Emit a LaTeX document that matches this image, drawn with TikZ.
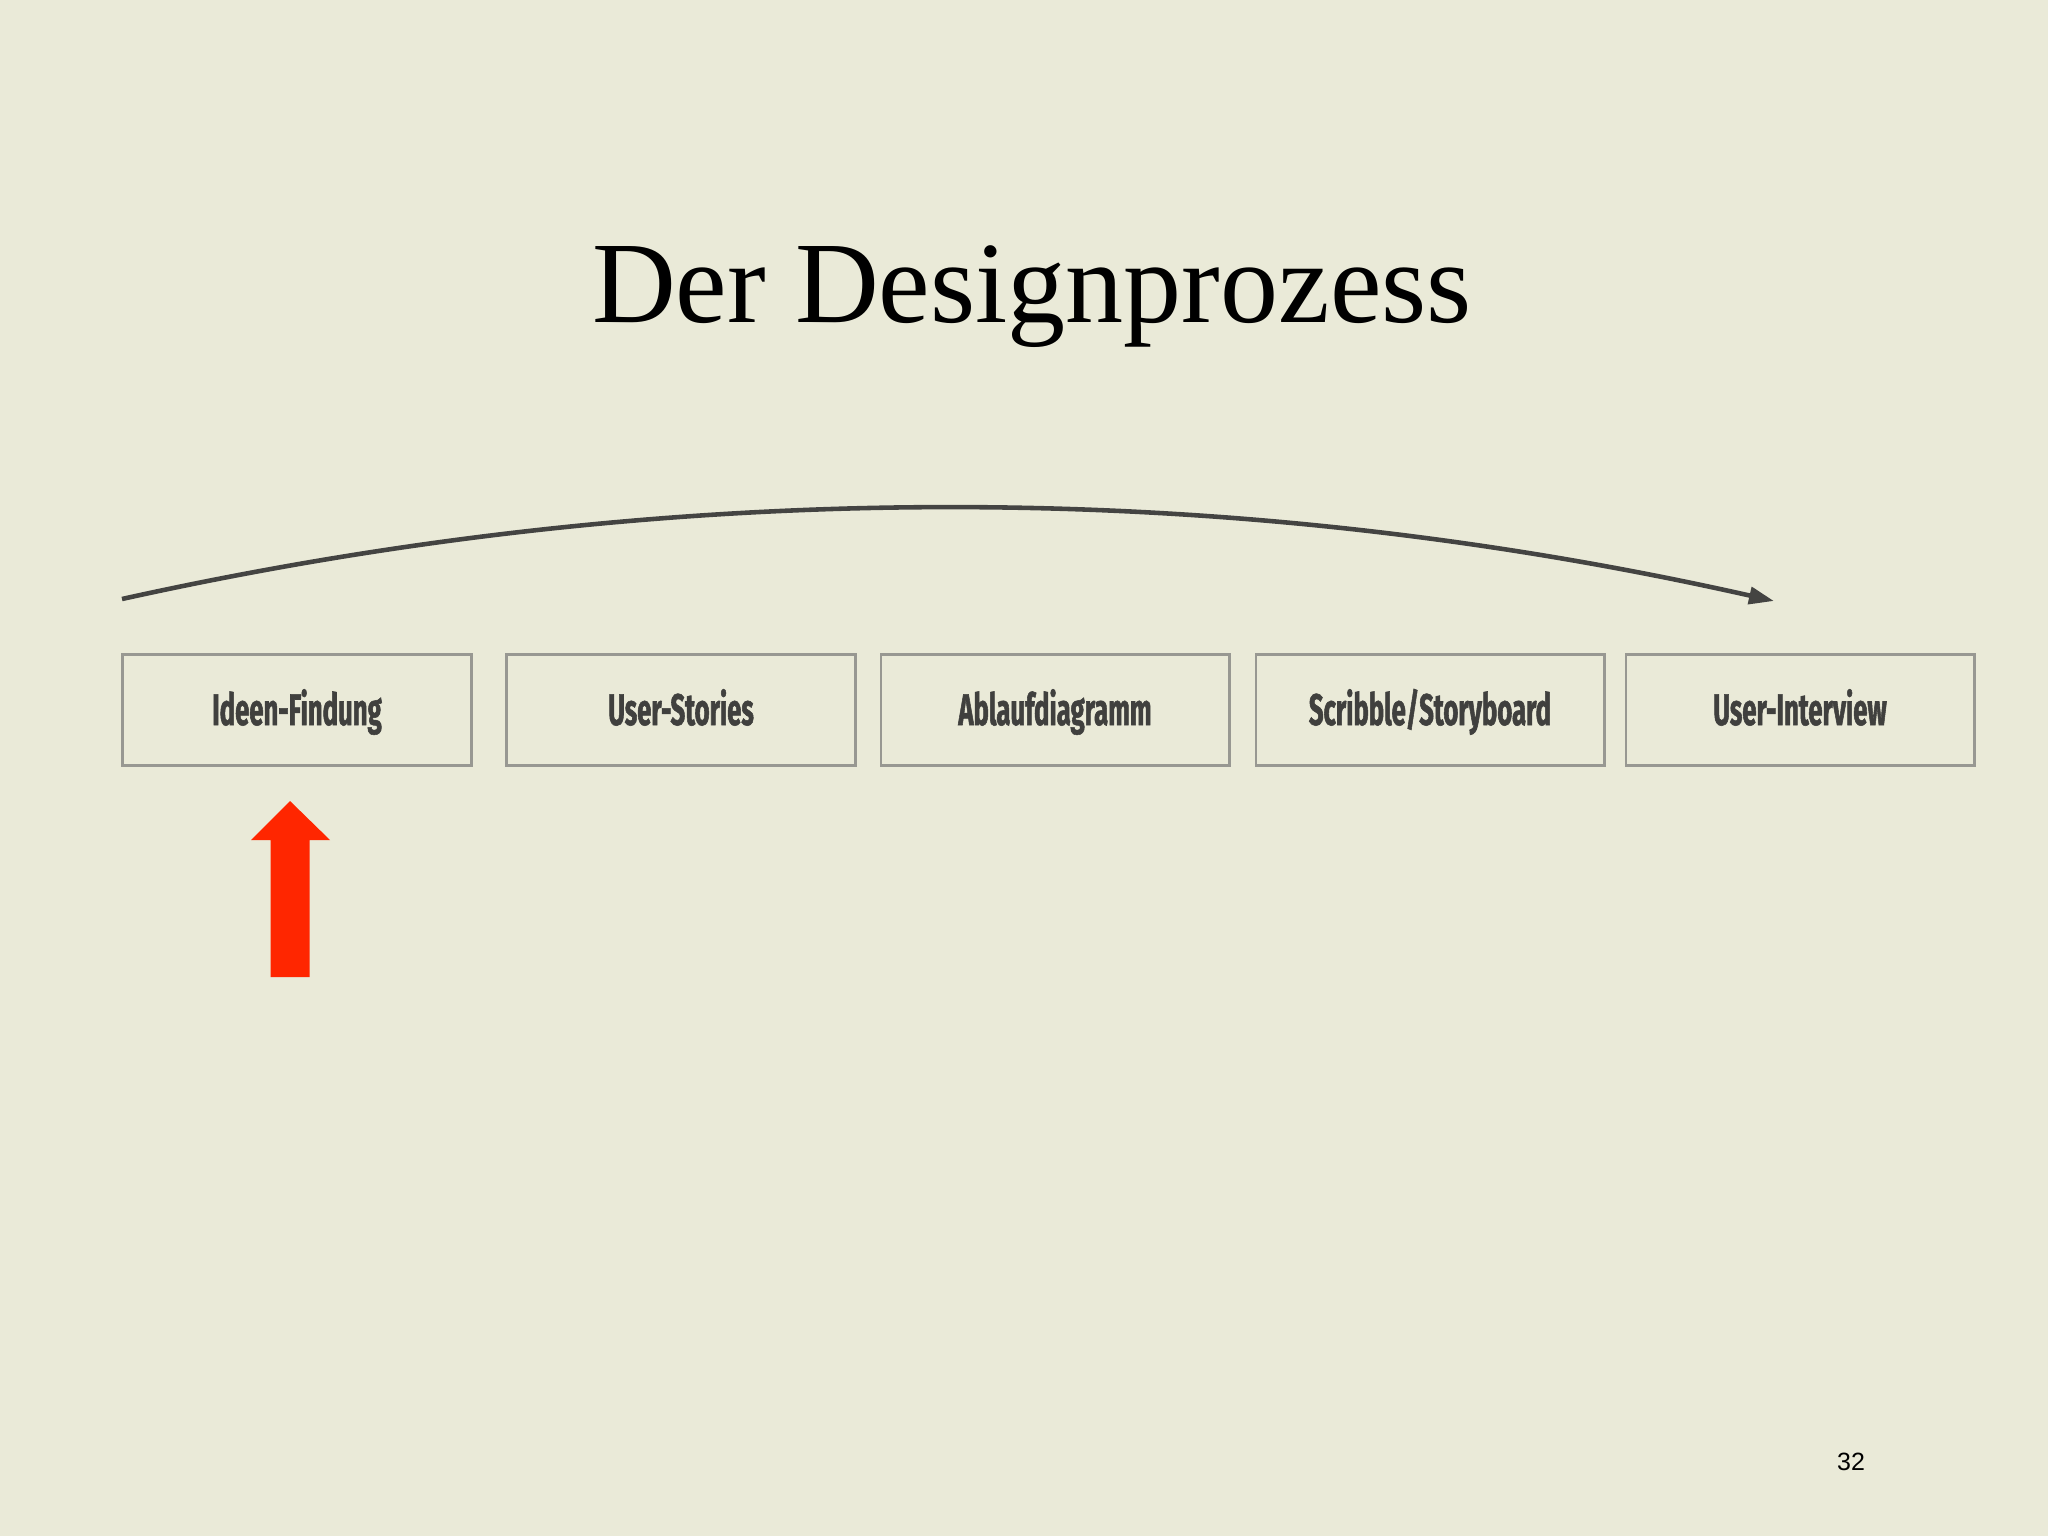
\documentclass[tikz,border=0pt]{standalone}
\usepackage{fontspec}
\setmainfont{Liberation Serif}
\newfontfamily\labelfont{Fira Sans}[FakeStretch=0.58,FakeBold=1.2]
\newfontfamily\numfont{Liberation Sans}
\usetikzlibrary{arrows.meta}
\definecolor{bgcol}{RGB}{234,234,216}
\definecolor{boxline}{RGB}{152,152,146}
\definecolor{txtcol}{RGB}{64,64,62}
\definecolor{arccol}{RGB}{68,68,66}
\definecolor{redarrow}{RGB}{255,38,0}
\tikzset{
  stagebox/.style={draw=boxline, line width=0.6pt, minimum width=3.487cm, minimum height=1.11cm,
    inner sep=0pt, text height=0.30cm, text depth=0pt, text=txtcol,
    font=\labelfont\bfseries\fontsize{12.6}{14}\selectfont},
  flow/.style={draw=arccol, line width=1.3pt, -{Triangle[length=0.25cm,width=0.17cm]}},
}
\begin{document}
\begin{tikzpicture}[x=0.01cm,y=-0.01cm]
\fill[bgcol] (0,0) rectangle (2048,1536);
\useasboundingbox (0,0) rectangle (2048,1536);
\node[anchor=base, font=\fontsize{33}{38}\selectfont, text=black] (title) at (1032,322) {Der Designprozess};
\node[stagebox] (b1) at (297,710) {Ideen-Findung};
\node[stagebox] (b2) at (681,710) {User-Stories};
\node[stagebox] (b3) at (1055,710) {Ablaufdiagramm};
\node[stagebox] (b4) at (1430,710) {Scribble/Storyboard};
\node[stagebox] (b5) at (1800,710) {User-Interview};
\coordinate (arcstart) at (122,599);
\coordinate (arcend) at (1774,601);
\draw[flow] (arcstart) .. controls (673,477) and (1223,477) .. (arcend);
\fill[redarrow] (290,801) -- (330,840) -- (309.5,840) -- (309.5,977) -- (270.5,977) -- (270.5,840) -- (251,840) -- cycle;
\node[font=\numfont\fontsize{7.1}{8}\selectfont, text=black] (page) at (1851,1462) {32};
\end{tikzpicture}
\end{document}
